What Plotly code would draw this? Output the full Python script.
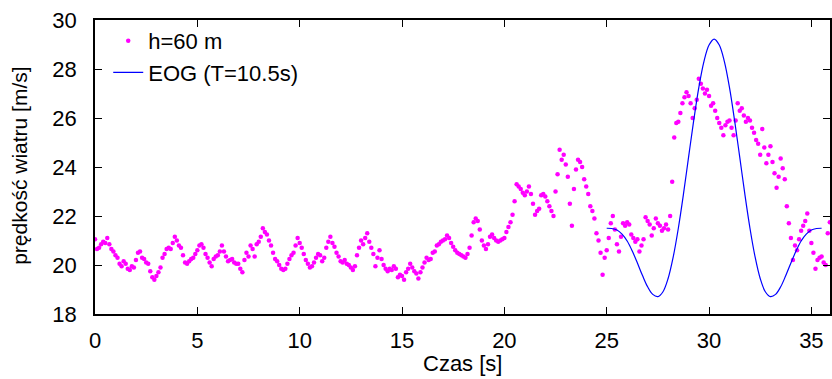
import numpy as np
import plotly.graph_objects as go

# measured wind speed, h=60 m, sampled every 0.1 s from t=0
t_step = 0.1
h60 = [
    21.05, 20.65, 20.7, 20.85, 20.95, 20.9, 21.1, 20.85, 20.65, 20.55,
    20.4, 20.3, 20.05, 19.95, 20.15, 20.05, 19.85, 19.8, 19.95, 19.9,
    20.2, 20.5, 20.55, 20.3, 20.25, 20.1, 20.05, 19.75, 19.5, 19.4,
    19.55, 19.7, 19.9, 20.3, 20.45, 20.65, 20.7, 20.65, 20.9, 21.15,
    21.0, 20.8, 20.7, 20.4, 20.1, 20.05, 20.15, 20.25, 20.3, 20.45,
    20.6, 20.8, 20.85, 20.7, 20.45, 20.3, 20.1, 19.95, 20.25, 20.35,
    20.4, 20.55, 20.8, 20.55, 20.35, 20.15, 20.2, 20.25, 20.1, 20.05,
    20.05, 19.85, 19.7, 20.2, 20.5, 20.35, 20.8, 20.65, 20.35, 20.85,
    20.95, 21.15, 21.5, 21.35, 21.25, 21.0, 20.8, 20.5, 20.25, 20.15,
    20.0, 19.85, 19.8, 19.85, 20.05, 20.25, 20.4, 20.5, 20.8, 21.1,
    20.9, 20.7, 20.45, 20.2, 20.05, 19.9, 19.95, 20.1, 20.3, 20.45,
    20.4, 20.15, 20.3, 20.7, 20.95, 21.15, 20.9, 20.75, 20.5, 20.35,
    20.15, 20.1, 20.2, 20.05, 20.0, 19.9, 19.8, 19.95, 20.4, 20.7,
    21.0, 20.85, 21.1, 21.3, 20.95, 20.7, 20.45, 19.95, 20.3, 20.6,
    20.25, 20.0, 19.85, 19.75, 19.85, 19.8, 19.95, 19.85, 19.5, 19.6,
    19.55, 19.4, 19.7, 19.85, 20.05, 19.9, 19.75, 19.65, 19.45, 19.7,
    19.9, 20.1, 20.3, 20.2, 20.25, 20.5, 20.55, 20.8, 20.85, 20.95,
    21.0, 21.05, 21.2, 21.1, 20.9, 20.75, 20.6, 20.5, 20.45, 20.4,
    20.35, 20.3, 20.45, 20.7, 21.2, 21.75, 21.9, 21.8, 21.45, 21.0,
    20.8, 20.65, 20.85, 21.15, 21.25, 21.1, 21.0, 20.95, 21.0, 21.05,
    21.1, 21.35, 21.55, 21.75, 22.05, 22.6, 23.3, 23.2, 23.1, 22.95,
    22.85, 23.0, 23.2, 22.9, 22.5, 22.05, 22.2, 22.3, 22.85, 22.9,
    22.8, 22.6, 22.4, 22.2, 22.0, 23.0, 23.7, 24.7, 24.3, 24.5,
    24.1, 23.6, 22.5, 21.6, 23.1, 23.9, 24.3, 24.2, 24.0, 23.5,
    23.2, 22.9, 22.4, 22.2, 21.9, 21.3, 21.0, 20.5, 19.6, 20.3,
    20.6, 21.1, 21.7, 22.0, 21.45, 20.85, 20.55, 21.15, 21.7, 21.6,
    21.75, 21.65, 21.25, 21.1, 20.95, 21.05, 20.55, 20.8, 21.05, 21.95,
    21.8, 21.65, 21.2, 21.5, 21.9, 21.7, 21.6, 21.4, 21.5, 21.65,
    21.45, 22.0, 23.4, 25.2, 25.8, 25.85, 26.2, 26.6, 26.85, 27.05,
    26.9, 26.6, 26.0, 26.4, 26.75, 27.6, 27.4, 27.2, 27.0, 27.15,
    26.9, 26.5, 26.6, 26.3, 26.0, 25.8, 25.6, 25.3, 25.7, 25.85,
    25.9, 25.6, 25.3, 25.9, 26.6, 26.3, 26.4, 26.1, 25.85, 26.0,
    25.9, 25.6, 25.4, 25.1, 24.95, 24.5, 25.55, 24.8, 24.15, 24.5,
    24.85, 24.2, 23.75, 23.15, 23.6, 24.35, 23.95, 23.5, 22.4, 21.7,
    21.1, 20.2, 20.8, 20.6, 21.05, 21.4, 21.6, 21.8, 22.1, 21.4,
    20.9, 20.5, 19.85, 20.2, 20.3, 20.35, 20.1, 20.0, 21.3, 21.75,
]
t_meas = np.round(np.arange(len(h60)) * t_step, 2)

# EOG gust model curve, every 0.25 s from t=25 s
eog_t0 = 25.0
eog_step = 0.25
eog = [
    21.5, 21.49, 21.43, 21.26, 20.98, 20.57, 20.08, 19.57, 19.11, 18.80,
    18.71, 18.91, 19.45, 20.33, 21.5, 22.89, 24.40, 25.89, 27.24, 28.30,
    28.98, 29.22, 28.98, 28.30, 27.24, 25.89, 24.40, 22.89, 21.5, 20.33,
    19.45, 18.91, 18.71, 18.80, 19.11, 19.57, 20.08, 20.57, 20.98, 21.26,
    21.43, 21.49, 21.5,
]
t_eog = eog_t0 + np.arange(len(eog)) * eog_step

x_ticks = [0, 5, 10, 15, 20, 25, 30, 35]
y_ticks = [18, 20, 22, 24, 26, 28, 30]

FONT = "Liberation Sans"
FS = 22

fig = go.Figure()
fig.add_trace(go.Scatter(
    x=t_meas, y=h60, mode="markers", name="h=60 m",
    marker=dict(color="#FF00FF", size=4.5, line=dict(width=0)),
    legendgroup="a",
))
fig.add_trace(go.Scatter(
    x=t_eog, y=eog, mode="lines", name="EOG (T=10.5s)",
    line=dict(color="#0000FF", width=1.2, shape="spline", smoothing=1.0),
    legendgroup="b",
))

axis_common = dict(
    showgrid=False, zeroline=False, showline=True, linecolor="#000000",
    linewidth=1.5, mirror="ticks", ticks="inside", ticklen=7,
    tickcolor="#000000", tickwidth=1,
    tickfont=dict(family=FONT, size=FS, color="#000000"),
)

fig.update_xaxes(range=[0, 35.91], tickvals=x_ticks,
                 ticktext=[str(v) for v in x_ticks],
                 ticklabelstandoff=6, **axis_common)
fig.update_yaxes(range=[18, 30], tickvals=y_ticks,
                 ticktext=[str(v) for v in y_ticks],
                 ticklabelstandoff=12, **axis_common)

fig.add_annotation(text="Czas [s]", xref="paper", yref="paper",
                   x=0.5, y=-0.17, xanchor="center", yanchor="middle",
                   showarrow=False, font=dict(family=FONT, size=FS, color="#000"))
fig.add_annotation(text="prędkość wiatru [m/s]", xref="paper", yref="paper",
                   x=-0.103, y=0.505, xanchor="center", yanchor="middle",
                   textangle=-90, showarrow=False,
                   font=dict(family=FONT, size=21, color="#000"))

fig.update_layout(
    width=832, height=379,
    margin=dict(l=95, r=0, t=20, b=65),
    paper_bgcolor="white", plot_bgcolor="white",
    showlegend=True,
    legend=dict(x=0.018, y=1.0, xanchor="left", yanchor="top",
                bgcolor="rgba(0,0,0,0)", borderwidth=0,
                font=dict(family=FONT, size=FS, color="#000"),
                traceorder="grouped", tracegroupgap=0, itemwidth=30),
)

fig.write_html(
    "out.html",
    config={"displayModeBar": False},
    post_script="document.body.style.margin='0';document.body.style.padding='0';"
                "document.body.style.overflow='hidden';",
)
